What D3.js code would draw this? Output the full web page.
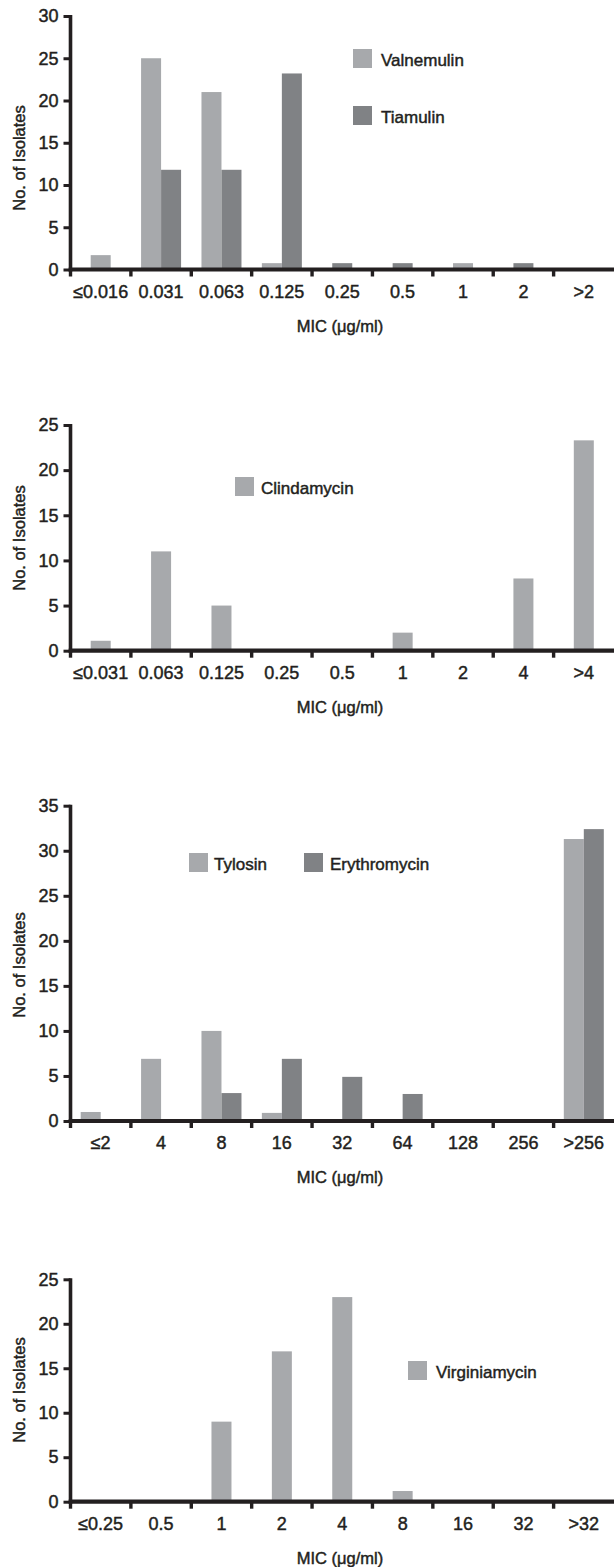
<!DOCTYPE html>
<html>
<head>
<meta charset="utf-8">
<script src="https://cdn.jsdelivr.net/npm/d3@7"></script>
<style>
  html, body { margin: 0; padding: 0; background: #fff; }
  svg { display: block; }
  text { font-family: "Liberation Sans", Arial, Helvetica, sans-serif; fill: #231f20; stroke: #231f20; stroke-width: 0.45px; }
</style>
</head>
<body>
<svg id="chart" width="614" height="1567"></svg>
<script>
// ---------------- DATA ----------------
// Panel 1
const cats1 = ["≤0.016", "0.031", "0.063", "0.125", "0.25", "0.5", "1", "2", ">2"];
const valnemulin = [1.7, 25, 21, 0.75, 0, 0, 0.75, 0, 0];
const tiamulin   = [0, 11.8, 11.8, 23.2, 0.75, 0.75, 0, 0.75, 0];
const yTicks1 = [0, 5, 10, 15, 20, 25, 30];

// Panel 2
const cats2 = ["≤0.031", "0.063", "0.125", "0.25", "0.5", "1", "2", "4", ">4"];
const clindamycin = [1.1, 11, 5, 0, 0, 2, 0, 8, 23.3];
const yTicks2 = [0, 5, 10, 15, 20, 25];

// Panel 3
const cats3 = ["≤2", "4", "8", "16", "32", "64", "128", "256", ">256"];
const tylosin      = [1, 6.9, 10, 0.9, 0, 0, 0, 0, 31.3];
const erythromycin = [0, 0, 3.1, 6.9, 4.9, 3, 0, 0, 32.4];
const yTicks3 = [0, 5, 10, 15, 20, 25, 30, 35];

// Panel 4
const cats4 = ["≤0.25", "0.5", "1", "2", "4", "8", "16", "32", ">32"];
const virginiamycin = [0, 0, 9, 16.9, 23, 1.2, 0, 0, 0];
const yTicks4 = [0, 5, 10, 15, 20, 25];

const xTitle = "MIC (μg/ml)";
const yTitle = "No. of Isolates";

// ---------------- STYLE / LAYOUT ----------------
const LIGHT = "#a7a9ac";
const DARK = "#808285";
const INK = "#231f20";

const panels = [
  {
    cats: cats1, yTicks: yTicks1, yMax: 30, y0: 269.5, yTop: 16, yTitleY: 158, centerSingles: true,
    series: [{ name: "Valnemulin", values: valnemulin, color: LIGHT },
             { name: "Tiamulin", values: tiamulin, color: DARK }],
    legend: [{ sx: 353, sy: 49, tx: 381, ty: 66 }, { sx: 353, sy: 106, tx: 381, ty: 123 }]
  },
  {
    cats: cats2, yTicks: yTicks2, yMax: 25, y0: 650.7, yTop: 425, yTitleY: 538, centerSingles: true,
    series: [{ name: "Clindamycin", values: clindamycin, color: LIGHT }],
    legend: [{ sx: 235, sy: 477, tx: 261, ty: 494 }]
  },
  {
    cats: cats3, yTicks: yTicks3, yMax: 35, y0: 1121, yTop: 805.7, yTitleY: 965, centerSingles: false,
    series: [{ name: "Tylosin", values: tylosin, color: LIGHT },
             { name: "Erythromycin", values: erythromycin, color: DARK }],
    legend: [{ sx: 189, sy: 853, tx: 214, ty: 870 }, { sx: 304, sy: 853, tx: 330, ty: 870 }]
  },
  {
    cats: cats4, yTicks: yTicks4, yMax: 25, y0: 1501.7, yTop: 1279.3, yTitleY: 1390, centerSingles: true,
    series: [{ name: "Virginiamycin", values: virginiamycin, color: LIGHT }],
    legend: [{ sx: 408, sy: 1361, tx: 436, ty: 1378 }]
  }
];

const svg = d3.select("#chart");
const axisX = 70.5, rightX = 614;
const barW = 20;

panels.forEach(p => {
  const g = svg.append("g");
  const x = d3.scaleBand().domain(p.cats).range([axisX, rightX]).padding(0);
  const y = d3.scaleLinear().domain([0, p.yMax]).range([p.y0, p.yTop]);
  const nS = p.series.length;
  const inner = d3.scaleBand().domain(d3.range(nS)).range([0, barW * nS]);

  // bars
  const bars = [];
  p.cats.forEach((c, i) => {
    const nonzero = p.series.map((s, k) => ({ k, v: s.values[i] })).filter(d => d.v > 0);
    const center = x(c) + x.bandwidth() / 2;
    nonzero.forEach(d => {
      let left;
      if (p.centerSingles && nonzero.length === 1) {
        left = center - barW / 2;
      } else {
        left = center - (barW * nS) / 2 + inner(d.k);
      }
      bars.push({ left, v: d.v, color: p.series[d.k].color });
    });
  });
  g.selectAll("rect.bar").data(bars).join("rect")
    .attr("class", "bar")
    .attr("x", d => d.left)
    .attr("width", barW)
    .attr("y", d => y(d.v))
    .attr("height", d => y(0) - y(d.v))
    .attr("fill", d => d.color);

  // y axis
  const ya = d3.axisLeft(y).tickValues(p.yTicks).tickSize(7).tickSizeOuter(0).tickPadding(5)
    .tickFormat(d3.format("d"));
  const yg = g.append("g").attr("transform", `translate(${axisX},0)`).call(ya);
  yg.select(".domain").remove();
  yg.selectAll(".tick line").attr("stroke", INK).attr("stroke-width", 3);
  yg.selectAll(".tick text").attr("font-size", 18).style("fill", INK)
    .attr("font-family", "'Liberation Sans', Arial, sans-serif");
  g.append("line")
    .attr("x1", axisX).attr("x2", axisX)
    .attr("y1", y(p.yMax) - 1).attr("y2", y(0) + 2)
    .attr("stroke", INK).attr("stroke-width", 3.6);

  // x axis line
  g.append("line")
    .attr("x1", axisX - 1.8).attr("x2", rightX)
    .attr("y1", y(0)).attr("y2", y(0))
    .attr("stroke", INK).attr("stroke-width", 4.2);
  // x ticks at category boundaries
  g.selectAll("line.xt").data(p.cats).join("line")
    .attr("class", "xt")
    .attr("x1", d => x(d)).attr("x2", d => x(d))
    .attr("y1", y(0)).attr("y2", y(0) + 7)
    .attr("stroke", INK).attr("stroke-width", 3.4);
  // x labels
  g.selectAll("text.xl").data(p.cats).join("text")
    .attr("class", "xl")
    .attr("x", d => x(d) + x.bandwidth() / 2)
    .attr("y", y(0) + 28)
    .attr("text-anchor", "middle")
    .attr("font-size", 18)
    .text(d => d);

  // axis titles
  g.append("text")
    .attr("x", 340).attr("y", y(0) + 62)
    .attr("text-anchor", "middle").attr("font-size", 16.5)
    .text(xTitle);
  g.append("text")
    .attr("transform", `translate(25,${p.yTitleY}) rotate(-90)`)
    .attr("text-anchor", "middle").attr("font-size", 16.5)
    .text(yTitle);

  // legend
  p.series.forEach((s, k) => {
    const L = p.legend[k];
    g.append("rect").attr("x", L.sx).attr("y", L.sy).attr("width", 19).attr("height", 19).attr("fill", s.color);
    g.append("text").attr("x", L.tx).attr("y", L.ty).attr("font-size", 17).text(s.name);
  });
});
</script>
</body>
</html>
